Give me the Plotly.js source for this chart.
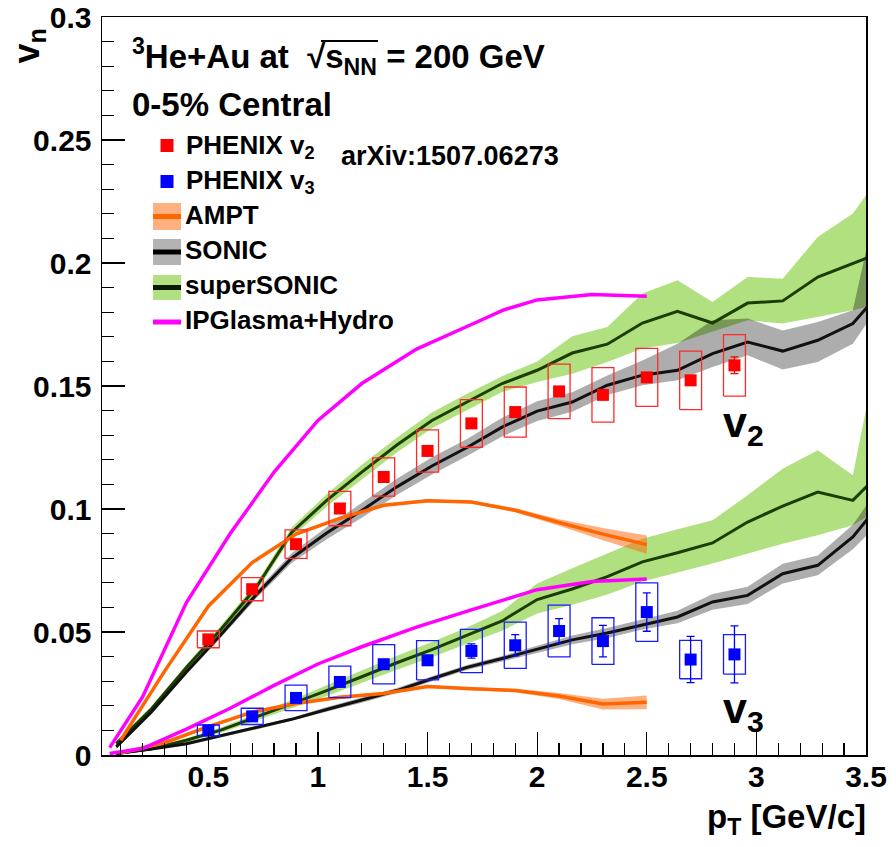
<!DOCTYPE html>
<html>
<head>
<meta charset="utf-8">
<script src="https://cdn.plot.ly/plotly-3.0.1.min.js"></script>
<style>
  html, body { margin: 0; padding: 0; background: #ffffff; }
  #chart { width: 896px; height: 847px; }
</style>
</head>
<body>
<div id="chart"></div>
<script>
// ---- PHENIX measurement, 3He+Au 0-5% central ----
const ptData = [0.5, 0.7, 0.9, 1.1, 1.3, 1.5, 1.7, 1.9, 2.1, 2.3, 2.5, 2.7, 2.9];
const v2Data = [0.0470, 0.0674, 0.0857, 0.1002, 0.1130, 0.1236, 0.1348, 0.1394, 0.1478, 0.1464, 0.1535, 0.1523, 0.1584];
const v2Stat = [0.0005, 0.0006, 0.0006, 0.0006, 0.0007, 0.0007, 0.0008, 0.0008, 0.0009, 0.0010, 0.0012, 0.0016, 0.0034];
const v2Sys  = [0.0034, 0.0047, 0.0058, 0.0070, 0.0078, 0.0086, 0.0097, 0.0102, 0.0111, 0.0111, 0.0118, 0.0119, 0.0125];
const v3Data = [0.0100, 0.0157, 0.0232, 0.0297, 0.0369, 0.0385, 0.0423, 0.0446, 0.0504, 0.0463, 0.0581, 0.0388, 0.0409];
const v3Stat = [0.0003, 0.0004, 0.0005, 0.0006, 0.0008, 0.0013, 0.0029, 0.0043, 0.0050, 0.0064, 0.0078, 0.0094, 0.0116];
const v3Sys  = [0.0022, 0.0033, 0.0052, 0.0064, 0.0080, 0.0080, 0.0088, 0.0094, 0.0105, 0.0095, 0.0119, 0.0078, 0.0080];

// ---- SONIC / superSONIC (common pT grid) ----
const sonicPt = [0.08, 0.24, 0.40, 0.56, 0.72, 0.88, 1.04, 1.20, 1.36, 1.52, 1.68, 1.84,
                 2.00, 2.16, 2.32, 2.48, 2.64, 2.80, 2.96, 3.12, 3.28, 3.44, 3.60];
const sonicV2   = [0.0033, 0.0175, 0.0337, 0.0492, 0.0653, 0.0800, 0.0902, 0.0994, 0.1090, 0.1175, 0.1250, 0.1333,
                   0.1398, 0.1435, 0.1503, 0.1544, 0.1564, 0.1632, 0.1679, 0.1642, 0.1686, 0.1754, 0.1917];
const sonicV2Lo = [0.0025, 0.0165, 0.0327, 0.0480, 0.0638, 0.0780, 0.0877, 0.0964, 0.1057, 0.1140, 0.1215, 0.1295,
                   0.1358, 0.1395, 0.1463, 0.1503, 0.1523, 0.1577, 0.1625, 0.1567, 0.1598, 0.1672, 0.1880];
const sonicV2Hi = [0.0041, 0.0185, 0.0347, 0.0504, 0.0668, 0.0820, 0.0927, 0.1024, 0.1123, 0.1210, 0.1285, 0.1371,
                   0.1438, 0.1475, 0.1543, 0.1604, 0.1672, 0.1767, 0.1774, 0.1726, 0.1760, 0.1808, 0.2450];
const superV2   = [0.0046, 0.0187, 0.0356, 0.0513, 0.0683, 0.0905, 0.1035, 0.1150, 0.1260, 0.1360, 0.1435, 0.1510,
                   0.1564, 0.1634, 0.1670, 0.1756, 0.1804, 0.1756, 0.1837, 0.1846, 0.1943, 0.2000, 0.2053];
const superV2Lo = [0.0038, 0.0177, 0.0344, 0.0498, 0.0665, 0.0885, 0.1010, 0.1120, 0.1230, 0.1328, 0.1402, 0.1476,
                   0.1516, 0.1550, 0.1598, 0.1652, 0.1675, 0.1720, 0.1767, 0.1754, 0.1780, 0.1808, 0.1843];
const superV2Hi = [0.0054, 0.0197, 0.0368, 0.0528, 0.0701, 0.0925, 0.1060, 0.1180, 0.1290, 0.1392, 0.1468, 0.1540,
                   0.1600, 0.1702, 0.1740, 0.1876, 0.1930, 0.1841, 0.1943, 0.1936, 0.2106, 0.2201, 0.2400];
const sonicV3   = [0.0006, 0.0024, 0.0046, 0.0078, 0.0110, 0.0145, 0.0185, 0.0222, 0.0262, 0.0310, 0.0356, 0.0392,
                   0.0430, 0.0468, 0.0496, 0.0530, 0.0561, 0.0622, 0.0649, 0.0737, 0.0771, 0.0886, 0.1060];
const sonicV3Lo = [0.0000, 0.0018, 0.0040, 0.0072, 0.0104, 0.0139, 0.0175, 0.0212, 0.0252, 0.0300, 0.0346, 0.0382,
                   0.0415, 0.0450, 0.0476, 0.0510, 0.0536, 0.0590, 0.0614, 0.0697, 0.0731, 0.0836, 0.0980];
const sonicV3Hi = [0.0012, 0.0030, 0.0052, 0.0084, 0.0116, 0.0151, 0.0195, 0.0232, 0.0272, 0.0320, 0.0366, 0.0402,
                   0.0445, 0.0486, 0.0516, 0.0550, 0.0586, 0.0654, 0.0684, 0.0777, 0.0811, 0.0936, 0.1140];
const superV3   = [0.0006, 0.0025, 0.0060, 0.0102, 0.0155, 0.0207, 0.0262, 0.0318, 0.0375, 0.0428, 0.0485, 0.0545,
                   0.0632, 0.0675, 0.0725, 0.0785, 0.0822, 0.0862, 0.0947, 0.1012, 0.1069, 0.1035, 0.1180];
const superV3Lo = [0.0002, 0.0019, 0.0052, 0.0091, 0.0141, 0.0190, 0.0240, 0.0292, 0.0347, 0.0397, 0.0452, 0.0505,
                   0.0575, 0.0611, 0.0652, 0.0705, 0.0742, 0.0778, 0.0819, 0.0859, 0.0893, 0.0934, 0.1020];
const superV3Hi = [0.0010, 0.0031, 0.0068, 0.0113, 0.0169, 0.0224, 0.0284, 0.0344, 0.0403, 0.0459, 0.0518, 0.0585,
                   0.0697, 0.0759, 0.0820, 0.0879, 0.0918, 0.0954, 0.1056, 0.1164, 0.1239, 0.1137, 0.1850];

// ---- AMPT ----
const amptPt   = [0.1, 0.3, 0.5, 0.7, 0.9, 1.1, 1.3, 1.5, 1.7, 1.9, 2.1, 2.3, 2.5];
const amptV2   = [0.0060, 0.0340, 0.0605, 0.0782, 0.0898, 0.0962, 0.1015, 0.1034, 0.1028, 0.0995, 0.0945, 0.0898, 0.0855];
const amptV2Lo = [0.0054, 0.0334, 0.0599, 0.0776, 0.0892, 0.0956, 0.1009, 0.1028, 0.1022, 0.0987, 0.0932, 0.0873, 0.0818];
const amptV2Hi = [0.0066, 0.0346, 0.0611, 0.0788, 0.0904, 0.0968, 0.1021, 0.1040, 0.1034, 0.1003, 0.0958, 0.0923, 0.0892];
const amptV3   = [0.0008, 0.0050, 0.0115, 0.0174, 0.0209, 0.0235, 0.0250, 0.0278, 0.0269, 0.0262, 0.0240, 0.0207, 0.0214];
const amptV3Lo = [0.0004, 0.0045, 0.0109, 0.0168, 0.0203, 0.0229, 0.0244, 0.0272, 0.0263, 0.0255, 0.0228, 0.0185, 0.0186];
const amptV3Hi = [0.0012, 0.0055, 0.0121, 0.0180, 0.0215, 0.0241, 0.0256, 0.0284, 0.0275, 0.0269, 0.0252, 0.0229, 0.0242];

// ---- IP-Glasma + hydro ----
const ipgPt = [0.05, 0.2, 0.4, 0.6, 0.8, 1.0, 1.2, 1.45, 1.7, 1.85, 2.0, 2.25, 2.5];
const ipgV2 = [0.0030, 0.0236, 0.0620, 0.0900, 0.1150, 0.1360, 0.1510, 0.1650, 0.1750, 0.1810, 0.1850, 0.1872, 0.1865];
const ipgV3 = [0.0006, 0.0026, 0.0105, 0.0190, 0.0283, 0.0370, 0.0440, 0.0520, 0.0590, 0.0630, 0.0672, 0.0705, 0.0715];

// ---- styling ----
const FONT = 'Liberation Sans, Arial, Helvetica, sans-serif';
const C = {
  red: '#ff0000', blue: '#0000ff',
  ampt: '#ff6600', amptBand: 'rgba(255,97,1,0.5)',
  sonic: '#111111', sonicBand: 'rgba(0,0,0,0.32)',
  superLine: '#1c3d00', superBand: 'rgba(111,199,24,0.55)',
  ipg: '#ff00ff'
};
const BOX_HALF_WIDTH = 0.05;

function band(x, lo, hi, color) {
  return {
    x: x.concat(x.slice().reverse()),
    y: hi.concat(lo.slice().reverse()),
    mode: 'lines', fill: 'toself', fillcolor: color,
    line: { width: 0 }, hoverinfo: 'skip', showlegend: false
  };
}
function curve(x, y, color, width) {
  return { x: x, y: y, mode: 'lines', line: { color: color, width: width },
           hoverinfo: 'skip', showlegend: false };
}
function sysBoxes(x, y, sys, color) {
  const bx = [], by = [];
  x.forEach((xi, i) => {
    const a = xi - BOX_HALF_WIDTH, b = xi + BOX_HALF_WIDTH;
    const lo = y[i] - sys[i], hi = y[i] + sys[i];
    bx.push(a, b, b, a, a, null);
    by.push(lo, lo, hi, hi, lo, null);
  });
  return { x: bx, y: by, mode: 'lines', line: { color: color, width: 1.3 },
           connectgaps: false, hoverinfo: 'skip', showlegend: false };
}
function points(x, y, stat, color) {
  return {
    x: x, y: y, mode: 'markers',
    marker: { symbol: 'square', size: 12, color: color, line: { width: 0 } },
    error_y: { type: 'data', array: stat, visible: true, color: color, thickness: 1.3, width: 4 },
    showlegend: false
  };
}

const traces = [
  band(sonicPt, superV2Lo, superV2Hi, C.superBand),
  band(sonicPt, superV3Lo, superV3Hi, C.superBand),
  band(sonicPt, sonicV2Lo, sonicV2Hi, C.sonicBand),
  band(sonicPt, sonicV3Lo, sonicV3Hi, C.sonicBand),
  band(amptPt, amptV2Lo, amptV2Hi, C.amptBand),
  band(amptPt, amptV3Lo, amptV3Hi, C.amptBand),
  curve(sonicPt, superV2, C.superLine, 3),
  curve(sonicPt, superV3, C.superLine, 3),
  curve(sonicPt, sonicV2, C.sonic, 3),
  curve(sonicPt, sonicV3, C.sonic, 3),
  curve(amptPt, amptV2, C.ampt, 3.5),
  curve(amptPt, amptV3, C.ampt, 3.5),
  curve(ipgPt, ipgV2, C.ipg, 3.5),
  curve(ipgPt, ipgV3, C.ipg, 3.5),
  sysBoxes(ptData, v2Data, v2Sys, '#ff2a2a'),
  sysBoxes(ptData, v3Data, v3Sys, '#1a1aff'),
  points(ptData, v2Data, v2Stat, C.red),
  points(ptData, v3Data, v3Stat, C.blue)
];

// pixel -> paper helpers for the drawn legend and labels
const L = 102, R = 30, T = 17, B = 92, W = 896, H = 847;
const PW = W - L - R, PH = H - T - B;
const X = px => (px - L) / PW;
const Y = py => (H - B - py) / PH;

function txt(text, px, py, size, xanchor, extra) {
  return Object.assign({
    text: text, xref: 'paper', yref: 'paper', x: X(px), y: Y(py),
    xanchor: xanchor || 'left', yanchor: 'middle', showarrow: false,
    font: { family: FONT, size: size, color: '#000', weight: 'bold' }
  }, extra || {});
}
function rect(x0, x1, y0, y1, fill) {
  return { type: 'rect', xref: 'paper', yref: 'paper', x0: X(x0), x1: X(x1), y0: Y(y1), y1: Y(y0),
           fillcolor: fill, line: { width: 0 }, layer: 'above' };
}
function hline(x0, x1, y, color, width) {
  return { type: 'line', xref: 'paper', yref: 'paper', x0: X(x0), x1: X(x1), y0: Y(y), y1: Y(y),
           line: { color: color, width: width }, layer: 'above' };
}

const annotations = [
  txt('<sup>3</sup>He+Au at  √s<sub>NN</sub> = 200 GeV', 130, 56, 33),
  txt('0-5% Central', 130, 104, 33),
  txt('arXiv:1507.06273', 339, 156, 27),
  txt('PHENIX v<sub>2</sub>', 184, 146, 26),
  txt('PHENIX v<sub>3</sub>', 184, 181, 26),
  txt('AMPT', 183, 215, 26),
  txt('SONIC', 183, 250, 26),
  txt('superSONIC', 183, 285, 26),
  txt('IPGlasma+Hydro', 183, 320, 26),
  txt('v<sub>2</sub>', 721, 425, 43),
  txt('v<sub>3</sub>', 721, 711, 43),
  txt('p<sub>T</sub> [GeV/c]', 868, 819, 33, 'right'),
  txt('v<sub>n</sub>', 29, 27, 36, 'center', { textangle: -90, yanchor: 'top' })
];

const shapes = [
  // radical bar over s_NN
  { type: 'line', xref: 'paper', yref: 'paper', x0: X(321), x1: X(378), y0: Y(41), y1: Y(41),
    line: { color: '#000', width: 2 }, layer: 'above' },
  rect(160.5, 173.5, 139, 152, C.red),
  rect(160.5, 173.5, 175, 188, C.blue),
  rect(153, 181, 203, 230, '#ffb080'),
  hline(153, 181, 216.5, C.ampt, 5),
  rect(153, 181, 239, 265, '#b3b3b3'),
  hline(153, 181, 252, '#000000', 5),
  rect(153, 181, 275, 300, '#b0e080'),
  hline(153, 181, 287.5, '#0a1a00', 5),
  hline(153, 181, 322, C.ipg, 5)
];

const axisCommon = {
  ticks: 'inside', ticklen: 23, tickwidth: 1.3, tickcolor: '#000',
  showline: true, linewidth: 1.5, linecolor: '#000', mirror: true,
  showgrid: false, zeroline: false,
  tickfont: { family: FONT, size: 30, color: '#000', weight: 'bold' }
};

const layout = {
  width: W, height: H,
  margin: { l: L, r: R, t: T, b: B },
  paper_bgcolor: '#ffffff', plot_bgcolor: '#ffffff',
  showlegend: false,
  xaxis: Object.assign({}, axisCommon, {
    range: [0.015, 3.5], tick0: 0, dtick: 0.5, ticklabelstandoff: -6,
    minor: { dtick: 0.1, ticks: 'inside', ticklen: 12, tickwidth: 1.2, tickcolor: '#000', showgrid: false }
  }),
  yaxis: Object.assign({}, axisCommon, {
    range: [0, 0.3], tick0: 0, dtick: 0.05, ticklabelstandoff: 3,
    minor: { dtick: 0.01, ticks: 'inside', ticklen: 12, tickwidth: 1.2, tickcolor: '#000', showgrid: false }
  }),
  annotations: annotations,
  shapes: shapes
};

Plotly.newPlot('chart', traces, layout, { staticPlot: true, displayModeBar: false });
</script>
</body>
</html>
